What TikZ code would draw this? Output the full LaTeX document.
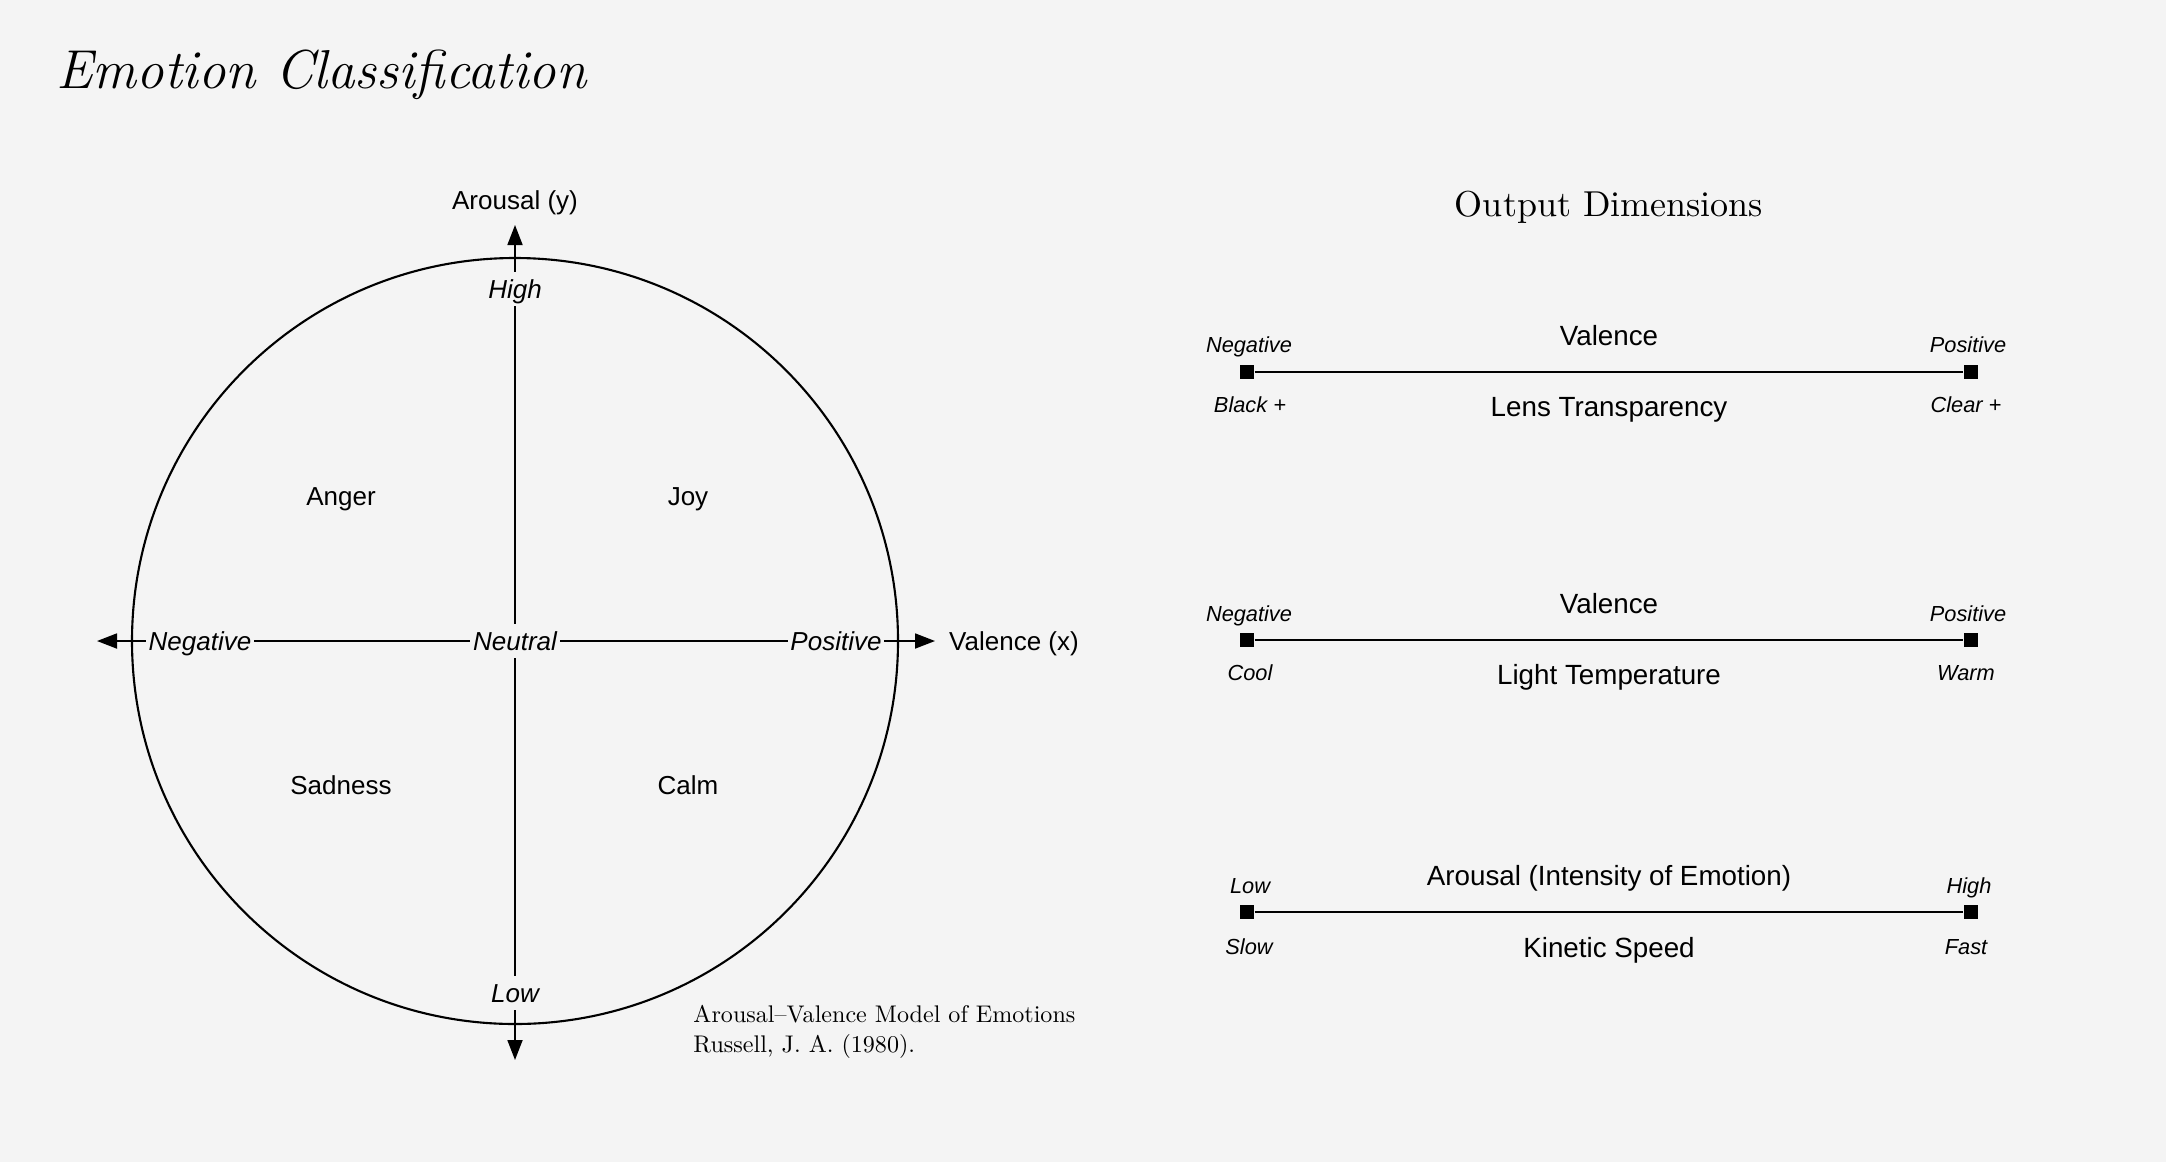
\documentclass[tikz,border=0pt]{standalone}
\usepackage{fontspec}
\setsansfont{Liberation Sans}
\usetikzlibrary{arrows.meta}
\definecolor{paper}{RGB}{244,244,244}

\begin{document}
\begin{tikzpicture}[
            axis/.style={-{Triangle[length=2mm, width=1.5mm]}, line width=0.5pt},
            lab/.style={font=\sffamily\fontsize{7.4}{9}\selectfont, inner sep=1pt,
                        text height=1.6ex, text depth=.3ex},
            onaxis/.style={lab, font=\sffamily\itshape\fontsize{7.4}{9}\selectfont,
                        fill=paper, inner sep=0.8pt},
            barlab/.style={lab, font=\sffamily\fontsize{7.9}{9}\selectfont},
            endlab/.style={lab, font=\sffamily\itshape\fontsize{6.2}{8}\selectfont},
            knob/.style={fill=black, minimum size=1.4mm, inner sep=0pt},
            bar/.style={line width=0.6pt}
        ]

        % Canvas
        \useasboundingbox (0,0) rectangle (21.66,11.62);
        \fill[paper] (0,0) rectangle (21.66,11.62);

        % Title
        \node[anchor=west, font=\itshape\fontsize{15.6}{18}\selectfont] (title) at (0.44,10.87)
            {Emotion Classification};

        % Circumplex
        \node[circle, draw, line width=0.6pt, minimum size=7.66cm] (wheel) at (5.15,5.21) {};

        \coordinate (xl) at (0.97,5.21);
        \coordinate (xr) at (9.35,5.21);
        \coordinate (yt) at (5.15,9.37);
        \coordinate (yb) at (5.15,1.02);

        \draw[axis] (wheel.center) -- (xl);
        \draw[axis] (wheel.center) -- (xr);
        \draw[axis] (wheel.center) -- (yt);
        \draw[axis] (wheel.center) -- (yb);

        \node[lab] (arousal) at (5.15,9.62) {Arousal (y)};
        \node[lab, anchor=west] (valence) at (9.45,5.21) {Valence (x)};

        \node[onaxis] (high) at (5.15,8.73) {High};
        \node[onaxis] (low) at (5.15,1.69) {Low};
        \node[onaxis] (neg) at (2.00,5.21) {Negative};
        \node[onaxis] (pos) at (8.36,5.21) {Positive};
        \node[onaxis] (neutral) at (5.15,5.21) {Neutral};

        % Quadrants
        \node[lab] (anger) at (3.41,6.66) {Anger};
        \node[lab] (joy) at (6.88,6.66) {Joy};
        \node[lab] (sadness) at (3.41,3.77) {Sadness};
        \node[lab] (calm) at (6.88,3.77) {Calm};

        % Source
        \node[anchor=west, align=left, inner sep=0pt, scale=0.685,
              font=\fontsize{10}{12.6}\selectfont] (source) at (6.93,1.30)
            {Arousal--Valence Model of Emotions\\Russell, J. A. (1980).};

        % Output dimensions
        \node[font=\fontsize{10.25}{12}\selectfont] (outtitle) at (16.09,9.55) {Output Dimensions};

        % Lens transparency
        \node[knob] (lensL) at (12.47,7.90) {};
        \node[knob] (lensR) at (19.71,7.90) {};
        \draw[bar] (lensL) -- (lensR);
        \node[barlab] (lensTop) at (16.09,8.26) {Valence};
        \node[barlab] (lensBot) at (16.09,7.55) {Lens Transparency};
        \node[endlab] (lensLT) at (12.49,8.19) {Negative};
        \node[endlab] (lensLB) at (12.50,7.59) {Black +};
        \node[endlab] (lensRT) at (19.68,8.19) {Positive};
        \node[endlab] (lensRB) at (19.66,7.59) {Clear +};

        % Light temperature
        \node[knob] (lightL) at (12.47,5.22) {};
        \node[knob] (lightR) at (19.71,5.22) {};
        \draw[bar] (lightL) -- (lightR);
        \node[barlab] (lightTop) at (16.09,5.58) {Valence};
        \node[barlab] (lightBot) at (16.09,4.87) {Light Temperature};
        \node[endlab] (lightLT) at (12.49,5.50) {Negative};
        \node[endlab] (lightLB) at (12.50,4.91) {Cool};
        \node[endlab] (lightRT) at (19.68,5.50) {Positive};
        \node[endlab] (lightRB) at (19.66,4.91) {Warm};

        % Kinetic speed
        \node[knob] (speedL) at (12.47,2.50) {};
        \node[knob] (speedR) at (19.71,2.50) {};
        \draw[bar] (speedL) -- (speedR);
        \node[barlab] (speedTop) at (16.09,2.86) {Arousal (Intensity of Emotion)};
        \node[barlab] (speedBot) at (16.09,2.14) {Kinetic Speed};
        \node[endlab] (speedLT) at (12.50,2.78) {Low};
        \node[endlab] (speedLB) at (12.49,2.17) {Slow};
        \node[endlab] (speedRT) at (19.69,2.78) {High};
        \node[endlab] (speedRB) at (19.66,2.17) {Fast};

        \end{tikzpicture}
\end{document}
